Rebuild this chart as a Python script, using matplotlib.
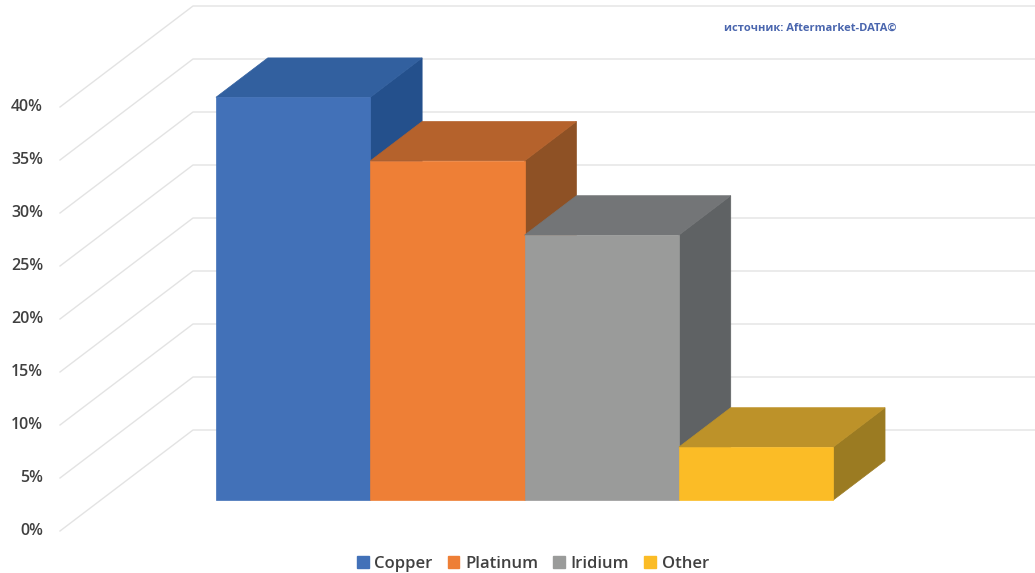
import matplotlib
matplotlib.use("Agg")
import matplotlib.pyplot as plt
from matplotlib.patches import Polygon, Patch

# ---- data ----
series = ["Copper", "Platinum", "Iridium", "Other"]
values = [38, 32, 25, 5]
yticks = [0, 5, 10, 15, 20, 25, 30, 35, 40]
ytick_labels = ["0%", "5%", "10%", "15%", "20%", "25%", "30%", "35%", "40%"]
source_text = "источник: Aftermarket-DATA©"

# ---- styles ----
front_colors = ["#4271B8", "#EE7F36", "#9A9B9A", "#FBBC26"]
top_colors = ["#32609F", "#B5622C", "#737577", "#BD9229"]
side_colors = ["#24508C", "#8E5125", "#5F6264", "#9B7B22"]
grid_color = "#E3E3E3"
text_color = "#404040"

W_PX, H_PX = 1035, 573
fig = plt.figure(figsize=(W_PX / 100, H_PX / 100), dpi=100)

# layout (bar width = 1 data unit in x, percent in y)
margin = 0.747
n = len(values)
xmax = n + 2 * margin
bar_px = 154.3
ax_left_px, ax_bottom_px = 60, 42
px_per_pct = 10.6
ax = fig.add_axes([ax_left_px / W_PX, ax_bottom_px / H_PX,
                   xmax * bar_px / W_PX, 40 * px_per_pct / H_PX])
ax.set_xlim(0, xmax)
ax.set_ylim(0, 40)
ax.axis("off")

DX = 133 / bar_px          # depth offset (x data units) for full depth
DY = 101 / px_per_pct      # depth offset (y data units) for full depth
d0, d1 = 0.306, 0.696      # bar depth range


def proj(x, v, d):
    return (x + d * DX, v + d * DY)


# gridlines: left wall diagonal + back wall horizontal
for v in yticks:
    p0 = proj(0, v, 0)
    p1 = proj(0, v, 1)
    p2 = proj(xmax, v, 1)
    ax.plot([p0[0], p1[0], p2[0]], [p0[1], p1[1], p2[1]],
            color=grid_color, lw=1.0, clip_on=False, zorder=1)

# tick labels
for v, lab in zip(yticks, ytick_labels):
    ax.text(-17 / bar_px, v, lab, ha="right", va="center",
            fontsize=11.5, color=text_color, family="Open Sans",
            fontweight="semibold")

# bars
for i, (val, fc, tc, sc) in enumerate(zip(values, front_colors, top_colors, side_colors)):
    x0 = margin + i
    x1 = x0 + 1
    front = [proj(x0, 0, d0), proj(x1, 0, d0), proj(x1, val, d0), proj(x0, val, d0)]
    top = [proj(x0, val, d0), proj(x1, val, d0), proj(x1, val, d1), proj(x0, val, d1)]
    side = [proj(x1, 0, d0), proj(x1, 0, d1), proj(x1, val, d1), proj(x1, val, d0)]
    z = 2 + i
    ax.add_patch(Polygon(side, closed=True, facecolor=sc, edgecolor=sc, lw=0.5,
                         clip_on=False, zorder=z))
    ax.add_patch(Polygon(top, closed=True, facecolor=tc, edgecolor=tc, lw=0.5,
                         clip_on=False, zorder=z))
    ax.add_patch(Polygon(front, closed=True, facecolor=fc, edgecolor=fc, lw=0.5,
                         clip_on=False, zorder=z))

# source text
fig.text(724 / W_PX, 1 - 28 / H_PX, source_text, ha="left", va="center",
         fontsize=8, color="#4A66AE", family="Open Sans", fontweight="bold")

# legend
handles = [Patch(facecolor=c, edgecolor=c) for c in front_colors]
leg = fig.legend(handles, series, loc="center", ncol=4,
                 bbox_to_anchor=(533 / W_PX, 1 - 564 / H_PX), frameon=False,
                 handlelength=0.7, handleheight=0.7, handletextpad=0.35,
                 columnspacing=0.9, prop={"family": "Open Sans", "size": 12,
                                          "weight": "semibold"})
for t in leg.get_texts():
    t.set_color(text_color)

fig.savefig("out.png", dpi=100, facecolor="white")
